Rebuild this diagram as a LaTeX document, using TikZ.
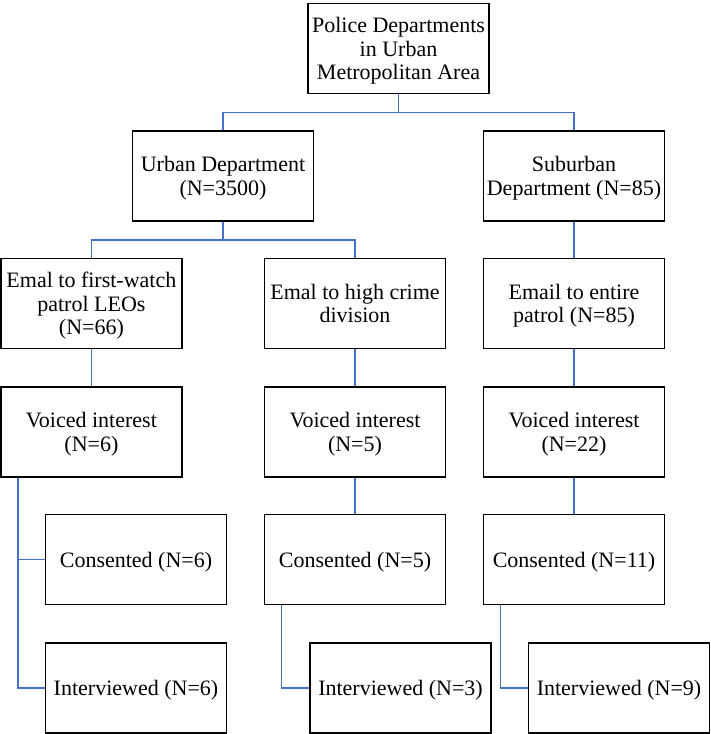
\documentclass[tikz,border=0pt]{standalone}
\usepackage{fontspec}
\setmainfont{Liberation Serif}
\definecolor{connblue}{HTML}{4472C4}
\begin{document}
\begin{tikzpicture}[x=1pt,y=-1pt,
  box/.style={draw=black,line width=1.8pt,minimum width=181pt,minimum height=90pt,
    inner sep=0pt,text depth=0pt,align=center,font=\fontsize{22}{23.5}\selectfont},
  conn/.style={draw=connblue,line width=1.4pt}]
\useasboundingbox (0,0) rectangle (711,734);
\node[box] (top) at (398.5,48.5) {Police Departments\\in Urban\\Metropolitan Area};
\node[box] (urban) at (223,176) {Urban Department\\(N=3500)};
\node[box] (sub) at (574,176) {Suburban\\Department (N=85)};
\node[box] (e1) at (91.4,303.5) {Emal to first-watch\\patrol LEOs\\(N=66)};
\node[box] (e2) at (355,303.5) {Emal to high crime\\division};
\node[box] (e3) at (574,303.5) {Email to entire\\patrol (N=85)};
\node[box] (v1) at (91.4,432) {Voiced interest\\(N=6)};
\node[box] (v2) at (355,432) {Voiced interest\\(N=5)};
\node[box] (v3) at (574,432) {Voiced interest\\(N=22)};
\node[box] (c1) at (136,559.5) {Consented (N=6)};
\node[box] (c2) at (355,559.5) {Consented (N=5)};
\node[box] (c3) at (574,559.5) {Consented (N=11)};
\node[box] (i1) at (136,688) {Interviewed (N=6)};
\node[box] (i2) at (400.5,688) {Interviewed (N=3)};
\node[box] (i3) at (619,688) {Interviewed (N=9)};
\draw[conn] (top.south) -- ++(0,18) -| (urban.north);
\draw[conn] (top.south) -- ++(0,18) -| (sub.north);
\draw[conn] (urban.south) -- ++(0,18) -| (e1.north);
\draw[conn] (urban.south) -- ++(0,18) -| (e2.north);
\draw[conn] (sub.south) -- (e3.north);
\draw[conn] (e1.south) -- (v1.north);
\draw[conn] (e2.south) -- (v2.north);
\draw[conn] (e3.south) -- (v3.north);
\draw[conn] ([xshift=18pt]v1.south west) |- (c1.west);
\draw[conn] ([xshift=18pt]v1.south west) |- (i1.west);
\draw[conn] (v2.south) -- (c2.north);
\draw[conn] (v3.south) -- (c3.north);
\draw[conn] ([xshift=18pt]c2.south west) |- (i2.west);
\draw[conn] ([xshift=18pt]c3.south west) |- (i3.west);
\end{tikzpicture}
\end{document}
